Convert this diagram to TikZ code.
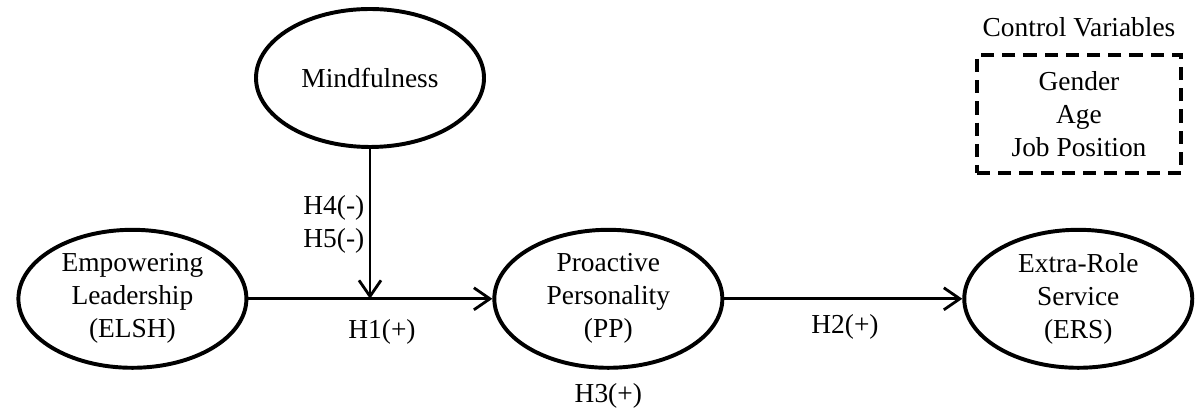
\documentclass[tikz,border=0pt]{standalone}
\usepackage{fontspec}
\setmainfont{Liberation Serif}
\usetikzlibrary{shapes.geometric, arrows.meta, positioning}

\begin{document}
\begin{tikzpicture}[
    node distance=6cm,
    factor/.style={ellipse, draw=black, line width=2.8pt, minimum width=5.7cm, minimum height=3.45cm, inner sep=0pt, align=center, font=\fontsize{19.5pt}{23.5pt}\selectfont},
    hyp/.style={inner sep=1pt, align=center, font=\fontsize{19.5pt}{23.5pt}\selectfont},
    ctrlbox/.style={rectangle, draw=black, line width=2.8pt, dash pattern=on 3.3mm off 2mm, minimum width=5.1cm, minimum height=2.95cm, align=center, font=\fontsize{19.5pt}{23.5pt}\selectfont},
    arr/.style={-{Straight Barb[length=4mm, width=5.5mm]}, line width=2pt}
]
\useasboundingbox (0,0) rectangle (29.9,10.4);

\node[factor] (elsh) at (3.31,2.93) {Empowering\\Leadership\\(ELSH)};
\node[factor, right=6.1cm of elsh] (pp) {Proactive\\Personality\\(PP)};
\node[factor, right=5.95cm of pp] (ers) {Extra-Role\\Service\\(ERS)};
\node[factor] (mind) at (9.25,8.45) {Mindfulness};

\node[ctrlbox] (ctrl) at (26.975,7.55) {Gender\\Age\\Job Position};
\node[hyp, above=3.6mm of ctrl] (ctrltitle) {Control Variables};

\draw[arr] (elsh) -- (pp);
\draw[arr] (pp) -- (ers);
\draw[arr] (mind.south) -- (mind.south |- elsh.east);

\node[hyp, anchor=east] (h45) at (9.15,4.8) {H4(-)\\H5(-)};
\node[hyp] (h1) at (9.55,2.1) {H1(+)};
\node[hyp] (h2) at (21.125,2.225) {H2(+)};
\node[hyp, below=3mm of pp] (h3) {H3(+)};

\end{tikzpicture}
\end{document}
